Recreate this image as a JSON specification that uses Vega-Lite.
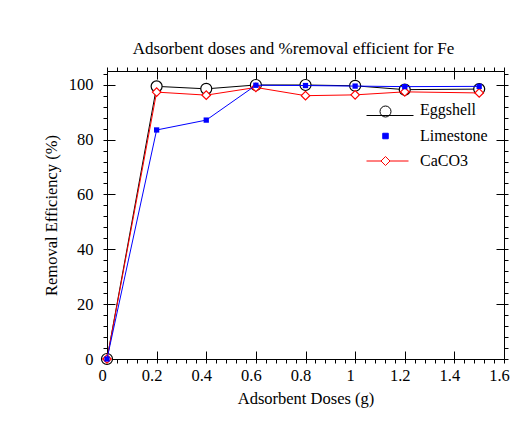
{
  "$schema": "https://vega.github.io/schema/vega-lite/v6.json",
  "autosize": {"type": "none"},
  "width": 397,
  "height": 288,
  "padding": {"left": 107, "top": 71, "right": 21, "bottom": 73},
  "background": "white",
  "title": {
    "text": "Adsorbent doses and %removal efficient for Fe",
    "font": "Liberation Serif",
    "fontSize": 17,
    "fontWeight": "normal",
    "color": "black",
    "offset": 9,
    "dx": -12
  },
  "data": {
    "values": [
      {"dose": 0, "removal": 0, "material": "Eggshell"},
      {"dose": 0.2, "removal": 99.4, "material": "Eggshell"},
      {"dose": 0.4, "removal": 98.5, "material": "Eggshell"},
      {"dose": 0.6, "removal": 99.9, "material": "Eggshell"},
      {"dose": 0.8, "removal": 99.9, "material": "Eggshell"},
      {"dose": 1.0, "removal": 99.6, "material": "Eggshell"},
      {"dose": 1.2, "removal": 98.2, "material": "Eggshell"},
      {"dose": 1.5, "removal": 98.4, "material": "Eggshell"},
      {"dose": 0, "removal": 0, "material": "Limestone"},
      {"dose": 0.2, "removal": 83.5, "material": "Limestone"},
      {"dose": 0.4, "removal": 87.1, "material": "Limestone"},
      {"dose": 0.6, "removal": 99.8, "material": "Limestone"},
      {"dose": 0.8, "removal": 99.7, "material": "Limestone"},
      {"dose": 1.0, "removal": 99.5, "material": "Limestone"},
      {"dose": 1.2, "removal": 99.3, "material": "Limestone"},
      {"dose": 1.5, "removal": 99.4, "material": "Limestone"},
      {"dose": 0, "removal": 0, "material": "CaCO3"},
      {"dose": 0.2, "removal": 97.3, "material": "CaCO3"},
      {"dose": 0.4, "removal": 96.2, "material": "CaCO3"},
      {"dose": 0.6, "removal": 99.0, "material": "CaCO3"},
      {"dose": 0.8, "removal": 96.0, "material": "CaCO3"},
      {"dose": 1.0, "removal": 96.3, "material": "CaCO3"},
      {"dose": 1.2, "removal": 97.4, "material": "CaCO3"},
      {"dose": 1.5, "removal": 97.0, "material": "CaCO3"}
    ]
  },
  "resolve": {"axis": {"x": "independent", "y": "independent"}},
  "layer": [
    {
      "transform": [{"filter": "datum.material === 'Eggshell'"}],
      "mark": {"type": "line", "color": "black", "strokeWidth": 1},
      "encoding": {
        "x": {
          "field": "dose", "type": "quantitative",
          "scale": {"domain": [0, 1.6], "nice": false, "zero": false},
          "axis": {
            "orient": "bottom",
            "values": [0, 0.2, 0.4, 0.6, 0.8, 1, 1.2, 1.4, 1.6],
            "format": "~g",
            "ticks": false,
            "labelPadding": 8,
            "labelOffset": -5,
            "title": "Adsorbent Doses (g)",
            "titlePadding": 7
          }
        },
        "y": {
          "field": "removal", "type": "quantitative",
          "scale": {"domain": [0, 105], "nice": false, "zero": false},
          "axis": {
            "orient": "left",
            "values": [0, 20, 40, 60, 80, 100],
            "ticks": false,
            "labelPadding": 14,
            "title": "Removal Efficiency (%)",
            "titlePadding": 9
          }
        }
      }
    },
    {
      "transform": [{"filter": "datum.material === 'Eggshell'"}],
      "mark": {"type": "point", "shape": "circle", "size": 121, "filled": false, "fill": "white", "fillOpacity": 1, "stroke": "black", "strokeWidth": 1.2, "opacity": 1},
      "encoding": {
        "x": {
          "field": "dose", "type": "quantitative",
          "axis": {"orient": "bottom", "values": [0.2, 0.4, 0.6, 0.8, 1, 1.2, 1.4], "labels": false, "tickSize": -8, "title": null}
        },
        "y": {
          "field": "removal", "type": "quantitative",
          "axis": {"orient": "left", "values": [20, 40, 60, 80, 100], "labels": false, "tickSize": -8, "title": null}
        }
      }
    },
    {
      "transform": [{"filter": "datum.material === 'CaCO3'"}],
      "mark": {"type": "line", "color": "#ff0000", "strokeWidth": 1},
      "encoding": {
        "x": {
          "field": "dose", "type": "quantitative",
          "axis": {
            "orient": "bottom",
            "values": [0, 0.04, 0.08, 0.12, 0.16, 0.2, 0.24, 0.28, 0.32, 0.36, 0.4, 0.44, 0.48, 0.52, 0.56, 0.6, 0.64, 0.68, 0.72, 0.76, 0.8, 0.84, 0.88, 0.92, 0.96, 1, 1.04, 1.08, 1.12, 1.16, 1.2, 1.24, 1.28, 1.32, 1.36, 1.4, 1.44, 1.48, 1.52, 1.56, 1.6],
            "labels": false, "tickSize": 4, "title": null
          }
        },
        "y": {
          "field": "removal", "type": "quantitative",
          "axis": {
            "orient": "left",
            "values": [0, 4, 8, 12, 16, 20, 24, 28, 32, 36, 40, 44, 48, 52, 56, 60, 64, 68, 72, 76, 80, 84, 88, 92, 96, 100, 104],
            "labels": false, "tickSize": 4, "title": null
          }
        }
      }
    },
    {
      "transform": [{"filter": "datum.material === 'CaCO3'"}],
      "mark": {"type": "point", "shape": "diamond", "size": 72, "filled": false, "fill": "white", "fillOpacity": 1, "stroke": "#ff0000", "strokeWidth": 1.2, "opacity": 1},
      "encoding": {
        "x": {
          "field": "dose", "type": "quantitative",
          "axis": {"orient": "top", "values": [0.2, 0.4, 0.6, 0.8, 1, 1.2, 1.4], "labels": false, "tickSize": -8, "title": null}
        },
        "y": {
          "field": "removal", "type": "quantitative",
          "axis": {"orient": "right", "values": [20, 40, 60, 80, 100], "labels": false, "tickSize": -8, "title": null}
        }
      }
    },
    {
      "transform": [{"filter": "datum.material === 'Limestone'"}],
      "mark": {"type": "line", "color": "#0000ff", "strokeWidth": 1},
      "encoding": {
        "x": {
          "field": "dose", "type": "quantitative",
          "axis": {
            "orient": "top",
            "values": [0, 0.04, 0.08, 0.12, 0.16, 0.2, 0.24, 0.28, 0.32, 0.36, 0.4, 0.44, 0.48, 0.52, 0.56, 0.6, 0.64, 0.68, 0.72, 0.76, 0.8, 0.84, 0.88, 0.92, 0.96, 1, 1.04, 1.08, 1.12, 1.16, 1.2, 1.24, 1.28, 1.32, 1.36, 1.4, 1.44, 1.48, 1.52, 1.56, 1.6],
            "labels": false, "tickSize": 4, "title": null
          }
        },
        "y": {
          "field": "removal", "type": "quantitative",
          "axis": {
            "orient": "right",
            "values": [0, 4, 8, 12, 16, 20, 24, 28, 32, 36, 40, 44, 48, 52, 56, 60, 64, 68, 72, 76, 80, 84, 88, 92, 96, 100, 104],
            "labels": false, "tickSize": 4, "title": null
          }
        }
      }
    },
    {
      "transform": [{"filter": "datum.material === 'Limestone'"}],
      "mark": {"type": "point", "shape": "square", "size": 28, "filled": true, "color": "#0000ff", "opacity": 1},
      "encoding": {
        "x": {"field": "dose", "type": "quantitative", "axis": null},
        "y": {"field": "removal", "type": "quantitative", "axis": null}
      }
    },
    {
      "transform": [{"filter": "false"}],
      "mark": {"type": "point", "strokeWidth": 1, "opacity": 1},
      "encoding": {
        "shape": {
          "field": "material", "type": "nominal",
          "scale": {
            "domain": ["Eggshell", "Limestone", "CaCO3"],
            "range": [
              "M-3.8,1.1L5.6,1.1M-1.1,0.3A1.1,1.1,0,1,0,1.1,0.3A1.1,1.1,0,1,0,-1.1,0.3Z",
              "M-0.55,-0.55L0.55,-0.55L0.55,0.55L-0.55,0.55Z",
              "M-3.8,0L-0.9,0M0.9,0L4.6,0M-0.9,0L0,-0.9L0.9,0L0,0.9Z"
            ]
          },
          "legend": {
            "orient": "none", "legendX": 270.5, "legendY": 31, "title": null, "padding": 0,
            "symbolSize": 100, "symbolStrokeWidth": 1, "symbolOpacity": 1,
            "labelOffset": 26.5, "rowPadding": 9,
            "labelFont": "Liberation Serif", "labelFontSize": 16, "labelColor": "black"
          }
        },
        "fill": {
          "field": "material", "type": "nominal",
          "scale": {"domain": ["Eggshell", "Limestone", "CaCO3"], "range": ["white", "#0000ff", "white"]},
          "legend": {
            "orient": "none", "legendX": 270.5, "legendY": 31, "title": null, "padding": 0,
            "symbolSize": 100, "symbolStrokeWidth": 1, "symbolOpacity": 1,
            "labelOffset": 26.5, "rowPadding": 9,
            "labelFont": "Liberation Serif", "labelFontSize": 16, "labelColor": "black"
          }
        },
        "stroke": {
          "field": "material", "type": "nominal",
          "scale": {"domain": ["Eggshell", "Limestone", "CaCO3"], "range": ["black", "#0000ff", "#ff0000"]},
          "legend": {
            "orient": "none", "legendX": 270.5, "legendY": 31, "title": null, "padding": 0,
            "symbolSize": 100, "symbolStrokeWidth": 1, "symbolOpacity": 1,
            "labelOffset": 26.5, "rowPadding": 9,
            "labelFont": "Liberation Serif", "labelFontSize": 16, "labelColor": "black"
          }
        }
      }
    }
  ],
  "config": {
    "view": {"stroke": "black", "strokeWidth": 1},
    "axis": {
      "domain": false,
      "grid": false,
      "tickColor": "black",
      "tickWidth": 1,
      "labelColor": "black",
      "titleColor": "black",
      "labelFont": "Liberation Serif",
      "titleFont": "Liberation Serif",
      "labelFontSize": 16.5,
      "titleFontSize": 16.5,
      "titleFontWeight": "normal",
      "labelFlush": false,
      "labelOverlap": false
    }
  }
}
